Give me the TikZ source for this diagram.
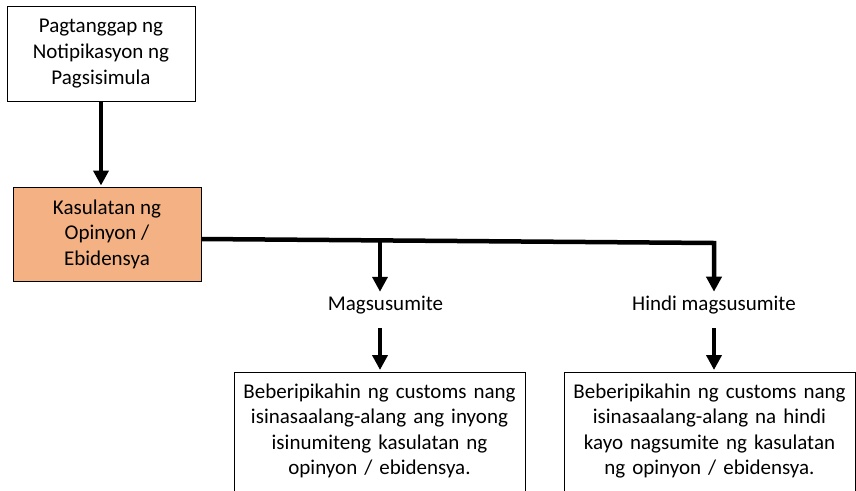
\documentclass[tikz,border=0pt]{standalone}
\usepackage{fontspec}
\setmainfont{Carlito}
\usetikzlibrary{arrows.meta}
\definecolor{kahel}{HTML}{F4B183}
\begin{document}
\begin{tikzpicture}[x=1pt,y=-1pt,>={Triangle[width=15pt,length=15pt]},
  every node/.style={font=\fontsize{21}{25.6}\selectfont,align=center},
  box/.style={draw,line width=1pt,inner sep=0pt},
  lowbox/.style={draw,line width=1pt,anchor=north,inner xsep=0pt,inner ysep=11pt,text width=291},
  flow/.style={->,line width=4.5pt}]
\useasboundingbox (0,0) rectangle (856,490);
\clip (0,0) rectangle (856,490);
\node[box,minimum width=188,minimum height=95] (P) at (101,53.5) {Pagtanggap ng\\Notipikasyon ng\\Pagsisimula};
\node[box,fill=kahel,minimum width=188,minimum height=94] (K) at (107,234) {Kasulatan ng\\Opinyon /\\Ebidensya};
\draw[flow,shorten >=1pt] (P.south) -- (P.south |- K.north);
% mga sangay
\node[inner sep=0pt] (M) at (385.5,305) {Magsusumite};
\node[inner sep=0pt] (H) at (714,305) {Hindi magsusumite};
\coordinate (R) at (714,243);
\coordinate (B) at (380,240.5);
\draw[flow,shorten >=4pt] ([yshift=-5pt]K.east) -- (R) -- (H.north);
\draw[flow,shorten >=4pt] (B) -- (B |- M.north);
\node[lowbox] (L1) at (379.5,372) {Beberipikahin ng customs nang\\isinasaalang-alang ang inyong\\isinumiteng kasulatan ng\\opinyon / ebidensya.\\\mbox{}};
\node[lowbox] (L2) at (709.5,372) {Beberipikahin ng customs nang\\isinasaalang-alang na hindi\\kayo nagsumite ng kasulatan\\ng opinyon / ebidensya.\\\mbox{}};
\draw[flow,shorten <=14pt,shorten >=2pt] (B |- M.south) -- (B |- L1.north);
\draw[flow,shorten <=14pt,shorten >=2pt] (H.south) -- (H.south |- L2.north);
\end{tikzpicture}
\end{document}
